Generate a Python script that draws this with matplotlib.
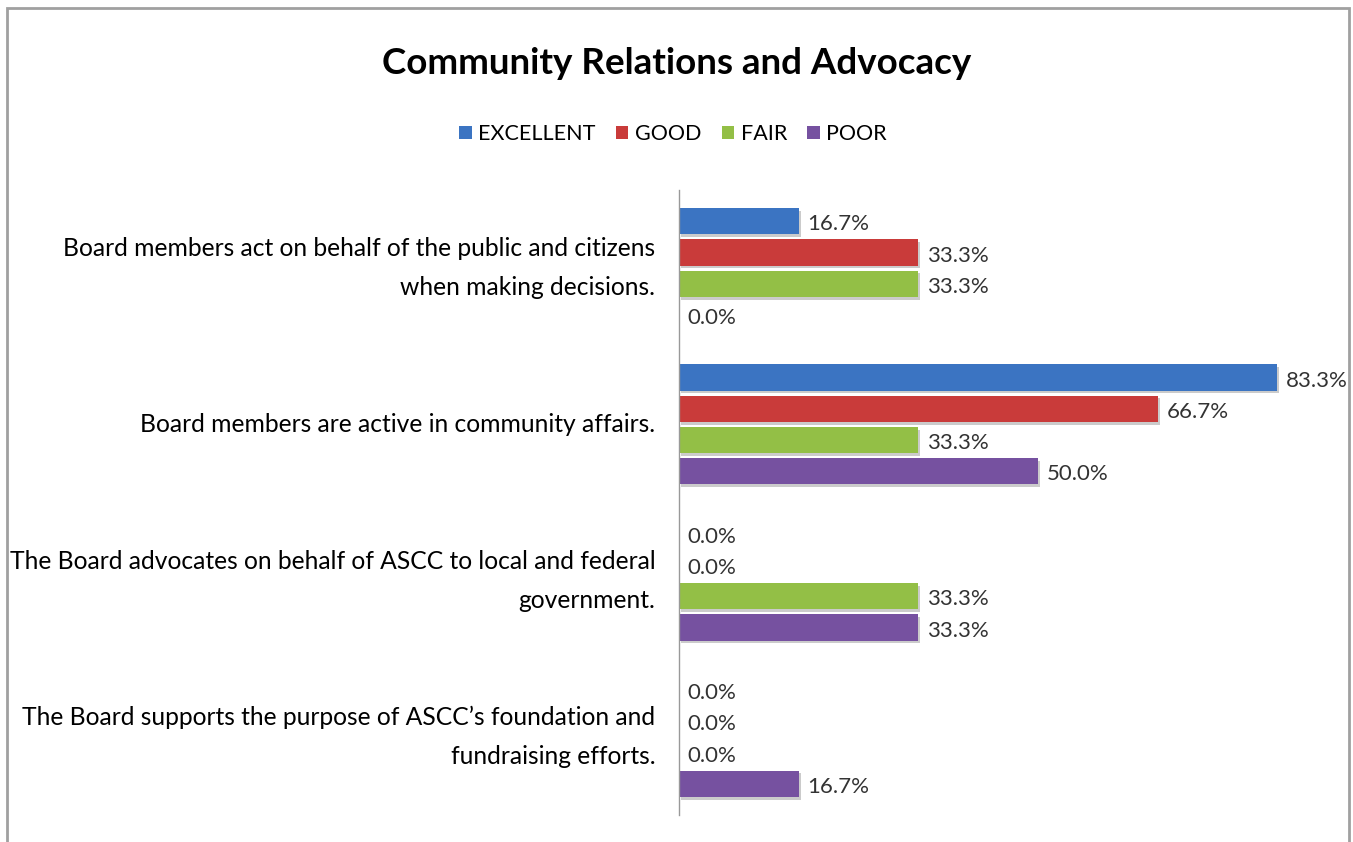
import numpy as np
import matplotlib
matplotlib.use('Agg')
import matplotlib.pyplot as plt
from matplotlib.patches import Rectangle, Patch
import matplotlib.patheffects as pe

plt.rcParams['font.family'] = ['Lato', 'DejaVu Sans']

categories = [
    'Board members act on behalf of the public and citizens\nwhen making decisions.',
    'Board members are active in community affairs.',
    'The Board advocates on behalf of ASCC to local and federal\ngovernment.',
    'The Board supports the purpose of ASCC\u2019s foundation and\nfundraising efforts.',
]
series = ['EXCELLENT', 'GOOD', 'FAIR', 'POOR']
excellent = [16.7, 83.3, 0.0, 0.0]
good = [33.3, 66.7, 0.0, 0.0]
fair = [33.3, 33.3, 33.3, 0.0]
poor = [0.0, 50.0, 33.3, 16.7]
colors = ['#3b74c2', '#c93b3a', '#93bf46', '#7651a0']

W, H = 1353, 842
fig = plt.figure(figsize=(W / 100, H / 100), dpi=100)
ax = fig.add_axes([679 / W, 1 - 815 / H, (1325 - 679) / W, (815 - 190) / H])

values = [excellent, good, fair, poor]
n = len(categories)
bar_step = 0.2
bar_h = 0.167
y = np.arange(n)
shadow = [pe.SimplePatchShadow(offset=(1.5, -2), shadow_rgbFace='#999999', alpha=0.5), pe.Normal()]
for i, (name, vals, c) in enumerate(zip(series, values, colors)):
    pos = y + (i - 1.5) * bar_step
    ax.barh(pos, vals, height=bar_h, color=c, path_effects=shadow)
    for p, v in zip(pos, vals):
        ax.text(v + 1.2, p + 0.02, f'{v:.1f}%', va='center', ha='left', fontsize=16, color='#333333')

ax.set_ylim(n - 0.5, -0.5)
ax.set_xlim(0, 90)
ax.set_yticks(y)
ax.set_yticklabels(categories, fontsize=17.7, linespacing=1.85)
ax.tick_params(axis='y', length=0, pad=17)
ax.set_xticks([])
for s in ['top', 'right', 'bottom']:
    ax.spines[s].set_visible(False)
ax.spines['left'].set_color('#999999')
ax.spines['left'].set_linewidth(1)
for lbl in ax.get_yticklabels():
    lbl.set_horizontalalignment('right')
    lbl.set_multialignment('right')
    lbl.set_verticalalignment('center')

fig.text(677 / W, 1 - 63 / H, 'Community Relations and Advocacy', ha='center', va='center',
         fontsize=26.5, fontweight='bold')

handles = [Patch(facecolor=c, label=s) for s, c in zip(series, colors)]
fig.legend(handles=handles, loc='center', bbox_to_anchor=(673 / W, 1 - 134 / H), ncol=4, frameon=False,
           fontsize=15.5, handlelength=0.58, handleheight=0.58, handletextpad=0.3, columnspacing=0.95)

fig.patches.append(Rectangle((7 / W, -0.02), (1349 - 7) / W, (842 - 8) / H + 0.02,
                             transform=fig.transFigure, fill=False, edgecolor='#a0a0a0', lw=2))

fig.savefig('out.png', dpi=100)
